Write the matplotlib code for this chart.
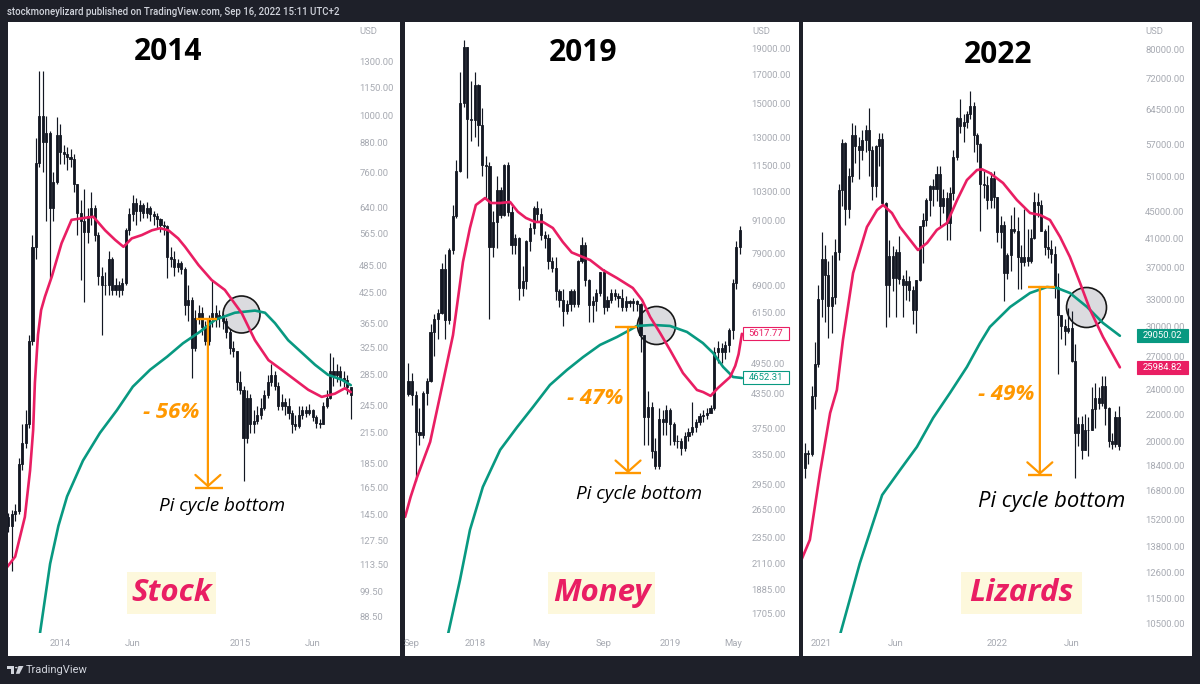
import numpy as np
import matplotlib
matplotlib.use('Agg')
import matplotlib.pyplot as plt
from matplotlib.patches import Rectangle, Circle, Polygon
from matplotlib.ticker import NullLocator, NullFormatter

plt.rcParams['font.family'] = ['Roboto', 'DejaVu Sans']

# ---------------- data: panel 1 (2014) ----------------
p1_start = '2013-09-23'
p1_open0 = 143
p1_close = [137, 145, 147, 185, 205, 225, 335, 530, 797, 1000,
            880, 920, 640, 725, 911, 840, 830, 820, 810, 720,
            625, 600, 570, 615, 640, 560, 460, 440, 440, 500,
            430, 440, 430, 445, 575, 620, 655, 630, 650, 625,
            640, 620, 615, 605, 590, 585, 505, 500, 480, 490,
            475, 400, 410, 325, 375, 385, 360, 335, 375, 385,
            375, 380, 370, 350, 325, 320, 275, 265, 210, 255,
            225, 228, 235, 243, 258, 275, 285, 270, 245, 250,
            245, 237, 225, 222, 235, 240, 237, 240, 232, 226,
            225, 245, 255, 290, 285, 290, 280, 278, 268, 258]
p1_high = [146, 148, 152, 190, 225, 240, 345, 560, 900, 1240,
           1240, 1000, 930, 760, 996, 960, 870, 860, 850, 830,
           720, 665, 700, 640, 690, 650, 570, 480, 470, 520,
           505, 455, 450, 455, 580, 640, 680, 670, 665, 655,
           660, 645, 630, 625, 610, 600, 590, 530, 520, 500,
           495, 480, 440, 415, 390, 400, 395, 370, 380, 450,
           400, 390, 385, 375, 355, 335, 320, 290, 270, 265,
           260, 240, 245, 255, 265, 285, 300, 290, 275, 260,
           255, 255, 240, 235, 245, 245, 245, 247, 242, 235,
           230, 250, 265, 316, 310, 300, 298, 290, 285, 268]
p1_low = [133, 110, 140, 145, 180, 200, 220, 330, 500, 780,
          760, 600, 456, 600, 720, 790, 790, 770, 780, 690,
          560, 452, 405, 540, 590, 545, 440, 345, 420, 420,
          420, 420, 415, 420, 440, 560, 600, 590, 600, 610,
          610, 600, 590, 580, 570, 560, 455, 480, 460, 470,
          465, 380, 370, 280, 320, 365, 345, 330, 330, 360,
          360, 360, 355, 340, 315, 310, 265, 260, 170, 205,
          215, 215, 225, 230, 240, 255, 270, 265, 240, 240,
          235, 230, 215, 218, 220, 230, 232, 234, 228, 220,
          220, 224, 243, 254, 270, 275, 270, 268, 260, 230]
p1_pink_x = [-0.4, 2.0, 4.8, 6.3, 7.2, 7.7, 8.6, 9.5, 10.6, 12.6,
             15.4, 18.3, 22.2, 24.6, 28.0, 30.9, 33.3, 35.7, 38.6, 41.5,
             43.9, 46.3, 49.1, 51.1, 55.0, 58.8, 62.6, 67.5, 71.3, 75.2,
             79.0, 82.9, 86.7, 90.6, 92.5, 94.4, 97.3, 99.0]
p1_pink_y = [112, 118, 143, 179, 218, 274, 346, 390, 416, 459,
             539, 604, 610, 613, 574, 548, 530, 552, 561, 574,
             580, 574, 552, 530, 485, 451, 430, 384, 337, 306,
             292, 278, 265, 256, 258, 260, 267, 262]
p1_green_x = [8.8, 12.1, 14.5, 17.0, 21.6, 26.5, 31.4, 36.0, 41.0, 45.9,
              50.5, 55.4, 59.8, 65.5, 71.3, 74.2, 77.1, 80.9, 84.9, 88.7,
              92.4, 96.5, 99.0]
p1_green_y = [78, 114, 137, 158, 188, 215, 240, 269, 292, 311,
              332, 351, 372, 385, 389, 385, 366, 337, 317, 299,
              285, 278, 271]
p1_yticks = [1300, 1150, 1000, 880, 760, 640, 565, 485, 425, 365, 325, 285,
             245, 215, 185, 165, 145, 127.5, 113.5, 99.5, 88.5]
p1_xdates = ['2014-01-06', '2014-06-02', '2015-01-05', '2015-06-01']
p1_xlabels = ['2014', 'Jun', '2015', 'Jun']

# ---------------- data: panel 2 (2019) ----------------
p2_start = '2017-08-28'
p2_open0 = 4350
p2_close = [4600, 4320, 3700, 3650, 4370, 4600, 5650, 5990, 6150, 7400,
            5950, 8040, 9270, 11240, 15020, 19100, 14080, 14000, 16250, 13700,
            11560, 11500, 8150, 9070, 10390, 9320, 11560, 9450, 8210, 8450,
            6830, 7030, 8330, 8820, 9600, 9350, 8570, 8450, 7650, 7440,
            6740, 6500, 6190, 6370, 6740, 6370, 7650, 8210, 7080, 6340,
            6470, 6700, 7300, 6300, 6500, 6700, 6600, 6550, 6300, 6450,
            6400, 6450, 6380, 5580, 3940, 4110, 3400, 3200, 3900, 3850,
            4050, 3830, 3560, 3550, 3450, 3630, 3700, 3780, 3850, 3950,
            3980, 4000, 4100, 5190, 5280, 5190, 5350, 5700, 6990, 8150,
            8750]
p2_high = [4950, 4750, 4400, 4100, 4400, 4650, 5850, 6100, 6250, 7600,
           7900, 8100, 9750, 11800, 17200, 19700, 19100, 16500, 17200, 16300,
           14700, 12000, 11700, 9500, 11000, 10500, 11600, 11700, 9700, 8600,
           8500, 7500, 8400, 9000, 9700, 9900, 9600, 8700, 8600, 7800,
           7800, 6800, 6800, 6500, 6800, 6800, 7700, 8500, 8300, 7100,
           6600, 6800, 7300, 7400, 6600, 6800, 6800, 6700, 6800, 6600,
           6500, 6550, 6500, 6400, 5600, 4400, 4200, 3600, 4100, 4050,
           4150, 4100, 3850, 3650, 3600, 3700, 3750, 4200, 3900, 4000,
           4050, 4100, 4150, 5300, 5450, 5400, 5450, 5750, 7100, 8350,
           8900]
p2_low = [4300, 4150, 3000, 3500, 3600, 4150, 4580, 5100, 5500, 6100,
          5500, 5850, 7900, 9200, 11200, 14800, 10900, 12800, 13000, 12500,
          11000, 10000, 5990, 7800, 8100, 9200, 9300, 9300, 7900, 7900,
          6500, 6600, 6800, 8000, 8600, 9100, 8400, 8100, 7400, 7300,
          6500, 6300, 5800, 6100, 6200, 6300, 6300, 7600, 6900, 5900,
          5900, 6200, 6600, 6100, 6200, 6400, 6500, 6300, 6200, 6200,
          6300, 6200, 6200, 5200, 3500, 3500, 3300, 3150, 3150, 3650,
          3650, 3500, 3500, 3450, 3350, 3400, 3550, 3650, 3700, 3800,
          3850, 3900, 4000, 4050, 4950, 4950, 5050, 5200, 5500, 6800,
          7900]
p2_pink_x = [-0.9, 0.6, 2.3, 5.9, 9.4, 12.1, 14.8, 16.7, 18.3, 20.8,
             22.4, 24.9, 27.6, 29.7, 31.9, 34.4, 36.5, 39.2, 41.9, 44.3,
             49.3, 52.8, 56.6, 60.9, 63.4, 65.6, 68.3, 71.0, 74.5, 78.3,
             80.0, 82.0, 84.0, 87.3, 88.7, 89.6, 90.5]
p2_pink_y = [2571, 2800, 3040, 3541, 4575, 5587, 7632, 8824, 9734, 10028,
             9817, 9817, 9860, 9458, 9210, 9054, 9054, 8824, 8312, 7950,
             7697, 7375, 7127, 6831, 6491, 6037, 5637, 5242, 4752, 4420,
             4380, 4310, 4458, 4672, 4900, 5150, 5618]
p2_green_x = [10.4, 14.0, 16.7, 20.2, 24.9, 29.5, 33.8, 38.4, 43.0, 47.4,
              52.0, 56.6, 60.1, 62.0, 66.4, 71.0, 75.6, 79.9, 82.7, 85.4,
              88.1, 90.5]
p2_green_y = [1520, 1965, 2432, 2922, 3423, 3772, 4110, 4515, 4813, 5086,
              5357, 5542, 5711, 5809, 5834, 5809, 5662, 5401, 5175, 4877,
              4672, 4652]
p2_yticks = [19000, 17000, 15000, 13000, 11500, 10300, 9100, 7900, 6900, 6150,
             4950, 4350, 3750, 3350, 2950, 2650, 2350, 2110, 1885, 1705]
p2_xdates = ['2017-09-04', '2018-01-01', '2018-05-07', '2018-09-03',
             '2019-01-07', '2019-05-06']
p2_xlabels = ['Sep', '2018', 'May', 'Sep', '2019', 'May']
p2_last_pink = 5617.77
p2_last_green = 4652.31

# ---------------- data: panel 3 (2022) ----------------
p3_start = '2020-11-30'
p3_open0 = 18200
p3_close = [19200, 19150, 23450, 26250, 33100, 38100, 36000, 32300, 33300, 39000,
            48700, 57300, 45400, 51000, 59000, 56700, 55900, 58000, 60100, 56000,
            49300, 56700, 58300, 46500, 34800, 38500, 35600, 39000, 35500, 34700,
            35300, 34200, 31800, 35400, 42800, 43800, 47000, 49300, 48800, 51500,
            46000, 47300, 43300, 48100, 54700, 62600, 61000, 61800, 63700, 65500,
            59000, 57200, 49600, 49400, 46900, 50700, 47400, 41900, 42900, 36200,
            38600, 42400, 42100, 38400, 37700, 38400, 37800, 41000, 46600, 46100,
            42100, 39700, 39500, 38800, 34500, 31300, 30100, 29500, 29900, 26600,
            20600, 21300, 19400, 20800, 20800, 22400, 23300, 22900, 24300, 22500,
            20000, 19800, 21800, 19700]
p3_high = [19900, 19400, 24300, 28400, 34800, 41900, 40100, 37800, 38600, 40900,
           49700, 58300, 57500, 52600, 61700, 61200, 58600, 60000, 61200, 64900,
           56800, 57000, 59500, 59500, 46600, 40800, 39900, 39500, 41300, 36000,
           36600, 35900, 34600, 35400, 42800, 44800, 47300, 49500, 50500, 52900,
           52900, 48800, 48300, 49200, 56000, 62900, 67000, 63700, 64200, 69000,
           66300, 59400, 57400, 51900, 51100, 51800, 52000, 47500, 44400, 43500,
           38900, 44500, 45800, 44200, 40000, 45400, 42400, 42300, 48200, 48100,
           47000, 42400, 42900, 40800, 39900, 36200, 31300, 30800, 32000, 31700,
           28200, 21800, 21900, 22000, 21800, 24200, 24600, 24200, 25200, 25200,
           22600, 20600, 22300, 22700]
p3_low = [17600, 18500, 19000, 22400, 26000, 31000, 30500, 28800, 29300, 32500,
          38000, 46000, 43000, 44000, 50000, 53500, 50500, 54000, 55600, 51000,
          47000, 47500, 53000, 46000, 30000, 31000, 34000, 31000, 34900, 31000,
          33000, 32800, 30300, 29300, 35200, 37500, 42800, 44300, 46000, 46800,
          42800, 44800, 40700, 40800, 47000, 54100, 59500, 57500, 60500, 62400,
          55600, 53600, 42000, 47200, 45500, 45600, 45700, 40500, 39600, 32900,
          35500, 36500, 41700, 34300, 34300, 37200, 37200, 37600, 40900, 44200,
          42000, 38600, 38300, 37600, 33200, 25400, 28700, 28100, 29300, 26500,
          17600, 19700, 18800, 19400, 19000, 20800, 21000, 22400, 22700, 21200,
          19600, 19500, 19600, 19400]
p3_pink_x = [-1.4, 1.5, 4.5, 7.5, 9.5, 11.3, 14.3, 18.4, 21.4, 23.2,
             25.8, 28.2, 31.2, 33.5, 36.2, 39.1, 42.1, 45.1, 48.0, 51.0,
             52.5, 54.8, 58.7, 62.8, 66.7, 69.7, 72.6, 75.6, 78.5, 81.5,
             84.5, 88.3, 93.3]
p3_pink_y = [13010, 14130, 17900, 22110, 23990, 28620, 36260, 42660, 45300, 46110,
             44820, 42660, 40740, 39330, 40320, 42220, 43270, 46930, 50360, 52180,
             52300, 51620, 49840, 46930, 44820, 44500, 43730, 41180, 38380, 35010,
             31820, 28930, 25985]
p3_green_x = [10.2, 16.3, 22.9, 28.2, 33.2, 38.0, 43.0, 48.0, 51.9, 54.8,
              60.8, 66.7, 71.7, 74.7, 78.5, 83.6, 88.3, 93.3]
p3_green_y = [10000, 13010, 16550, 18080, 19620, 21730, 23740, 26020, 28320, 29970,
              32160, 33790, 34510, 34390, 33790, 32160, 30390, 29050]
p3_yticks = [80000, 72000, 64500, 57000, 51000, 45000, 41000, 37000, 33000, 30000,
             27000, 24000, 22000, 20000, 18400, 16800, 15200, 13800, 12600, 11500, 10500]
p3_xdates = ['2021-01-04', '2021-06-07', '2022-01-03', '2022-06-06']
p3_xlabels = ['2021', 'Jun', '2022', 'Jun']
p3_last_green = 29050.02
p3_last_pink = 25984.82

# annotation values (top level / bottom of the drop, in price)
p1_drop = (373, 165)
p2_drop = (5784, 3100)
p3_drop = (34520, 17770)

# ---------------- styling ----------------
W, H = 1200, 684
BG = '#1e2029'
CANDLE = '#131722'
PINK = '#e91e63'
GREEN = '#089981'
ORANGE = '#ff9800'
AXGREY = '#a7aab2'
YELLOW = '#fdf8dc'

fig = plt.figure(figsize=(W / 100, H / 100), dpi=100)
fig.patch.set_facecolor(BG)


def fx(x):
    return x / W


def fy(y):
    return 1 - y / H


def rect_px(x0, y0, x1, y1, **kw):
    r = Rectangle((fx(x0), fy(y1)), (x1 - x0) / W, (y1 - y0) / H,
                  transform=fig.transFigure, **kw)
    fig.add_artist(r)
    return r


# white panels
for (a, b) in [(8, 399.5), (404.5, 798.5), (803, 1192)]:
    rect_px(a, 22, b, 656, facecolor='white', edgecolor='none', zorder=0)


def make_axes(left, right, top=22, bottom=633):
    ax = fig.add_axes([fx(left), fy(bottom), (right - left) / W, (bottom - top) / H])
    ax.set_facecolor('none')
    for s in ax.spines.values():
        s.set_visible(False)
    return ax


def week_index(start, dates):
    s = np.datetime64(start)
    return [int((np.datetime64(d) - s).astype(int)) / 7.0 for d in dates]


def draw_panel(ax, start, open0, closes, highs, lows, pinkx, pinky, greenx, greeny,
               xlim, ylim, yticks, xdates, xlabels):
    closes = np.asarray(closes, float)
    opens = np.concatenate([[open0], closes[:-1]])
    idx = np.arange(len(closes))
    ax.vlines(idx, lows, highs, color=CANDLE, lw=0.85, zorder=3)
    lo = np.minimum(opens, closes)
    hi = np.maximum(opens, closes)
    ax.bar(idx, hi - lo, bottom=lo, width=0.6, color=CANDLE, edgecolor=CANDLE,
           linewidth=0.6, zorder=3)
    ax.plot(greenx, greeny, color=GREEN, lw=1.9, zorder=4, solid_capstyle='round',
            solid_joinstyle='round')
    ax.plot(pinkx, pinky, color=PINK, lw=1.9, zorder=4, solid_capstyle='round',
            solid_joinstyle='round')
    ax.set_yscale('log')
    ax.set_xlim(*xlim)
    ax.set_ylim(*ylim)
    ax.yaxis.set_minor_locator(NullLocator())
    ax.yaxis.set_minor_formatter(NullFormatter())
    ax.set_yticks(yticks)
    ax.set_yticklabels([f'{v:.2f}' for v in yticks])
    ax.yaxis.tick_right()
    ax.tick_params(axis='y', length=0, pad=4.5, labelsize=6.8, labelcolor=AXGREY)
    ax.set_xticks(week_index(start, xdates))
    ax.set_xticklabels(xlabels)
    ax.tick_params(axis='x', length=0, pad=4.2, labelsize=6.8, labelcolor=AXGREY)
    for lbl in ax.get_yticklabels():
        lbl.set_horizontalalignment('left')


def drop_arrow(ax, xc, x_top, x_bot, vals):
    top, bot = vals
    ax.plot(x_top, [top, top], color=ORANGE, lw=1.7, zorder=5, solid_capstyle='butt')
    ax.plot(x_bot, [bot, bot], color=ORANGE, lw=1.7, zorder=5, solid_capstyle='butt')
    ax.annotate('', xy=(xc, bot), xytext=(xc, top),
                arrowprops=dict(arrowstyle='->,head_length=0.8,head_width=0.9',
                                color=ORANGE, lw=1.6, shrinkA=0, shrinkB=0),
                zorder=5)


def ring(ax, xc, yc, r_px):
    d_pt = 2 * r_px * 72 / 100
    ax.scatter([xc], [yc], s=d_pt ** 2, facecolor='#d7d8dc', edgecolor='black',
               linewidths=1.2, alpha=0.9, zorder=2)


def value_box(ax, val, text, color, filled, x0, x1):
    ydisp = ax.transData.transform((0, val))[1]
    ypx = H - ydisp
    rect_px(x0, ypx - 6.5, x1, ypx + 6.5, facecolor=color if filled else 'white',
            edgecolor=color, linewidth=0.8, zorder=6)
    fig.text(fx((x0 + x1) / 2), fy(ypx), text, ha='center', va='center',
             fontsize=6.8, color='white' if filled else color, zorder=7)


# ---------------- panel 1 ----------------
ax1 = make_axes(8, 353)
draw_panel(ax1, p1_start, p1_open0, p1_close, p1_high, p1_low,
           p1_pink_x, p1_pink_y, p1_green_x, p1_green_y,
           (-0.07, 99.64), (81.5, 1576), p1_yticks, p1_xdates, p1_xlabels)
ring(ax1, 67.3, 383, 18.5)
drop_arrow(ax1, 57.7, [54.3, 60.3], [54.0, 62.0], p1_drop)

# ---------------- panel 2 ----------------
ax2 = make_axes(404.5, 745)
draw_panel(ax2, p2_start, p2_open0, p2_close, p2_high, p2_low,
           p2_pink_x, p2_pink_y, p2_green_x, p2_green_y,
           (-1.06, 91.34), (1566.6, 21257), p2_yticks, p2_xdates, p2_xlabels)
ring(ax2, 67.2, 5830, 19)
drop_arrow(ax2, 59.6, [56.1, 62.0], [56.1, 63.2], p2_drop)

# ---------------- panel 3 ----------------
ax3 = make_axes(803, 1139)
draw_panel(ax3, p3_start, p3_open0, p3_close, p3_high, p3_low,
           p3_pink_x, p3_pink_y, p3_green_x, p3_green_y,
           (-0.53, 98.96), (10166, 88008), p3_yticks, p3_xdates, p3_xlabels)
ring(ax3, 83.3, 32160, 20)
drop_arrow(ax3, 69.6, [66.1, 74.1], [66.1, 73.2], p3_drop)

value_box(ax2, p2_last_pink, f'{p2_last_pink:.2f}', PINK, False, 743, 789)
value_box(ax2, p2_last_green, f'{p2_last_green:.2f}', GREEN, False, 743, 789)
value_box(ax3, p3_last_green, f'{p3_last_green:.2f}', GREEN, True, 1137, 1188)
value_box(ax3, p3_last_pink, f'{p3_last_pink:.2f}', PINK, True, 1137, 1188)

# ---------------- texts ----------------
TITLE_FONT = ['Open Sans', 'DejaVu Sans']
for (xc, yc, t) in [(168, 52, '2014'), (583, 53, '2019'), (998, 55, '2022')]:
    fig.text(fx(xc), fy(yc), t, ha='center', va='center', fontsize=21.5,
             fontweight='bold', family=TITLE_FONT, color='black', zorder=8)

for (xc, yc, t) in [(171, 413, '- 56%'), (595, 398, '- 47%'), (1006, 395, '- 49%')]:
    fig.text(fx(xc), fy(yc), t, ha='center', va='center', fontsize=16,
             fontweight='bold', style='italic', family=TITLE_FONT, color=ORANGE, zorder=8)

for (xc, yc, t, fs) in [(222, 506, 'Pi cycle bottom', 13.6),
                        (639, 494, 'Pi cycle bottom', 13.6),
                        (1052, 502, 'Pi cycle bottom', 15.8)]:
    fig.text(fx(xc), fy(yc), t, ha='center', va='center', fontsize=fs,
             style='italic', fontweight='medium', family=TITLE_FONT, color='black',
             zorder=8)

for (x0, x1, t) in [(127, 216, 'Stock'), (548, 655, 'Money'), (961, 1082, 'Lizards')]:
    rect_px(x0, 572, x1, 614, facecolor=YELLOW, edgecolor='none', zorder=1)
    fig.text(fx((x0 + x1) / 2), fy(593), t, ha='center', va='center', fontsize=22.5,
             fontweight='bold', style='italic', family=TITLE_FONT, color=PINK, zorder=8)

for xl in [359, 752, 1145]:
    fig.text(fx(xl), fy(32), 'USD', ha='left', va='center', fontsize=6.8, color=AXGREY)

fig.text(fx(7), fy(12), 'stockmoneylizard published on TradingView.com, Sep 16, 2022 15:11 UTC+2',
         ha='left', va='center', fontsize=6.9, fontweight='medium', color='#d1d4dc')

# TradingView logo
rect_px(7, 666, 14, 668.8, facecolor='#d1d4dc', edgecolor='none')
rect_px(10.8, 666, 13.6, 673.8, facecolor='#d1d4dc', edgecolor='none')
fig.add_artist(Circle((fx(16.3), fy(667.6)), 1.3 / W, transform=fig.transFigure,
                      facecolor='#d1d4dc', edgecolor='none'))
fig.add_artist(Polygon([(fx(18.5), fy(666)), (fx(23.5), fy(666)), (fx(19.5), fy(673.8)),
                        (fx(15.8), fy(673.8))], closed=True, transform=fig.transFigure,
                       facecolor='#d1d4dc', edgecolor='none'))
fig.text(fx(26), fy(670), 'TradingView', ha='left', va='center', fontsize=8,
         color='#d1d4dc')

fig.savefig('out.png', dpi=100, facecolor=BG)
